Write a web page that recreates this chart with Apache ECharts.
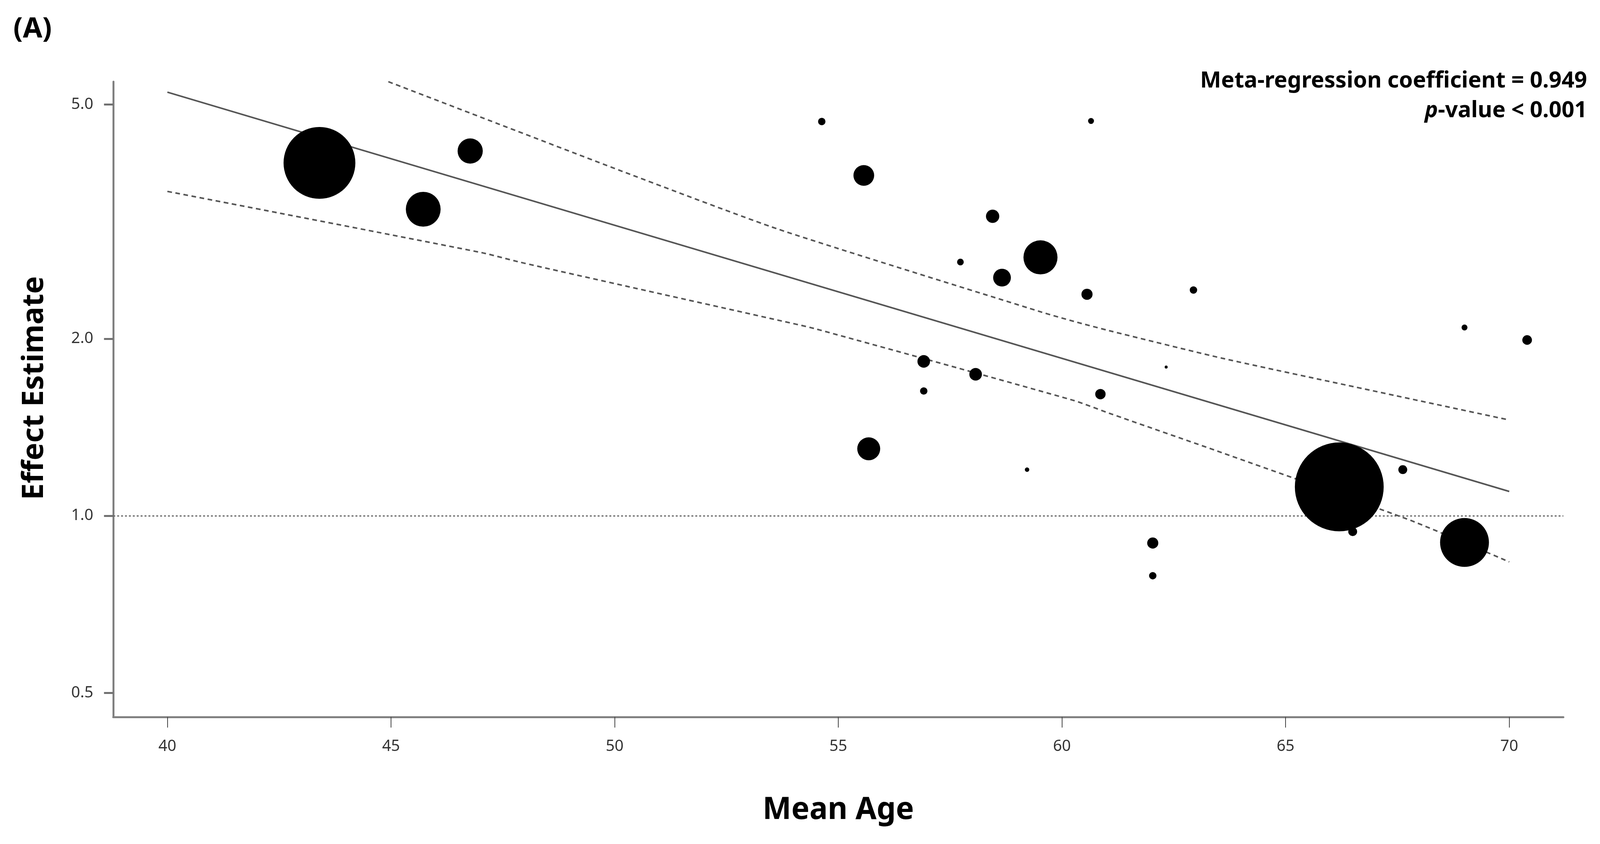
<!DOCTYPE html>
<html>
<head>
<meta charset="utf-8">
<title>Meta-regression: Mean Age</title>
<script src="https://cdn.jsdelivr.net/npm/echarts@6/dist/echarts.min.js"></script>
<style>
html,body{margin:0;padding:0;background:#fff;overflow:hidden;}
#chart{width:100vw;height:100vh;}
</style>
</head>
<body>
<div id="chart"></div>
<script>
// studies: mean age, effect estimate, relative weight (bubble size)
var ages    = [43.40, 46.77, 45.72, 54.63, 55.57, 58.45, 59.52, 57.73, 58.66, 56.91, 58.07, 56.91, 60.86, 55.68, 59.22, 60.65, 60.56, 62.94, 62.33, 69.00, 70.40, 66.20, 66.50, 67.62, 69.00, 62.03, 62.03];
var effects = [3.98, 4.17, 3.32, 4.68, 3.79, 3.23, 2.75, 2.70, 2.54, 1.83, 1.74, 1.63, 1.61, 1.30, 1.198, 4.69, 2.38, 2.42, 1.79, 2.09, 1.99, 1.12, 0.94, 1.198, 0.901, 0.899, 0.791];
var weights = [19.4, 6.8, 9.4, 2.0, 5.6, 3.6, 9.2, 1.8, 4.8, 3.4, 3.4, 2.0, 2.8, 6.2, 1.2, 1.6, 3.0, 2.0, 0.8, 1.6, 2.6, 24.0, 2.4, 2.4, 13.2, 3.0, 2.0];

// regression line and 95% CI bounds
var fitAge  = [40, 70];
var fitEst  = [5.25, 1.10];
var ciUpAge = [44.94, 47.04, 50.33, 53.66, 59.54, 60.27, 61.10, 63.58, 66.89, 70];
var ciUpEst = [5.47, 4.75, 3.81, 3.07, 2.22, 2.14, 2.06, 1.853, 1.635, 1.455];
var ciLoAge = [40, 47.04, 47.87, 50.33, 53.66, 54.48, 60.27, 61.10, 63.58, 67.80, 70];
var ciLoEst = [3.56, 2.80, 2.70, 2.45, 2.15, 2.08, 1.57, 1.49, 1.28, 0.982, 0.835];

var xTicks = [40, 45, 50, 55, 60, 65, 70];
var yTicks = [0.5, 1.0, 2.0, 5.0];
var refValue = 1.0;

function lg(v){ return Math.log10(v); }
function pairs(xs, ys){
	var out = [];
	for (var i = 0; i < xs.length; i++) out.push([xs[i], lg(ys[i])]);
	return out;
}

var dom = document.getElementById('chart');
var chart = echarts.init(dom);
var W = dom.clientWidth, H = dom.clientHeight;
// layout was measured on a 4323 x 2160 canvas
function px(v){ return v * W / 4323; }
function py(v){ return v * H / 2160; }
function fs(v){ return Math.round(v * Math.min(W / 4323, H / 2160)); }

var bubbles = [];
for (var i = 0; i < ages.length; i++) bubbles.push([ages[i], lg(effects[i]), weights[i]]);

var option = {
	animation: false,
	backgroundColor: '#fff',
	grid: { left: px(306), right: px(99), top: py(209), bottom: py(325), containLabel: false, outerBoundsMode: 'none' },
	xAxis: {
		type: 'value',
		min: 38.79, max: 71.21,
		name: 'Mean Age',
		nameLocation: 'middle',
		nameGap: py(200),
		nameTextStyle: { fontFamily: 'Noto Sans', fontWeight: 'bold', fontSize: fs(82), color: '#000', verticalAlign: 'top' },
		axisLine: { show: true, onZero: false, lineStyle: { color: '#808080', width: 5 } },
		axisTick: { show: true, length: py(27), customValues: xTicks, lineStyle: { color: '#444', width: 2 } },
		axisLabel: { customValues: xTicks, margin: py(56), fontFamily: 'Noto Sans', fontSize: fs(42), color: '#333' },
		splitLine: { show: false }
	},
	yAxis: {
		type: 'value',
		min: lg(0.455), max: lg(5.47),
		axisLine: { show: true, onZero: false, lineStyle: { color: '#808080', width: 5 } },
		axisTick: { show: true, length: px(25), customValues: yTicks.map(lg), lineStyle: { color: '#707070', width: 5 } },
		axisLabel: {
			customValues: yTicks.map(lg), margin: px(54),
			fontFamily: 'Noto Sans', fontSize: fs(42), color: '#333',
			formatter: function(v){ return Math.pow(10, v).toFixed(1); }
		},
		splitLine: { show: false }
	},
	graphic: [
		{ type: 'text', left: px(36), top: py(39),
		  style: { text: '(A)', font: 'bold ' + fs(76) + 'px "Noto Sans"', fill: '#000' } },
		{ type: 'text', x: px(93), y: py(993), rotation: Math.PI / 2,
		  style: { text: 'Effect Estimate', font: 'bold ' + fs(80) + 'px "Noto Sans"', fill: '#000', textAlign: 'center', verticalAlign: 'middle' } },
		{ type: 'text', right: px(35), top: py(179),
		  style: { text: 'Meta-regression coefficient = 0.949', font: 'bold ' + fs(60) + 'px "Noto Sans"', fill: '#000', textAlign: 'right' } },
		{ type: 'text', right: px(35), top: py(255),
		  style: { text: '{i|p}-value < 0.001', font: 'bold ' + fs(60) + 'px "Noto Sans"', fill: '#000', textAlign: 'right',
		           rich: { i: { fontStyle: 'italic', fontWeight: 'bold', fontSize: fs(60), fontFamily: 'Noto Sans' } } } }
	],
	series: [
		{
			name: 'fit', type: 'line', z: 2, symbol: 'none', silent: true,
			data: pairs(fitAge, fitEst),
			lineStyle: { color: '#555', width: 4 }
		},
		{
			name: 'ci upper', type: 'line', z: 2, symbol: 'none', silent: true, smooth: 0.2,
			data: pairs(ciUpAge, ciUpEst),
			lineStyle: { color: '#555', width: 4, type: [12, 9] }
		},
		{
			name: 'ci lower', type: 'line', z: 2, symbol: 'none', silent: true, smooth: 0.2,
			data: pairs(ciLoAge, ciLoEst),
			lineStyle: { color: '#555', width: 4, type: [12, 9] }
		},
		{
			name: 'studies', type: 'scatter', z: 3,
			data: bubbles,
			symbolSize: function(v){ return v[2] * 10 * Math.min(W / 4323, H / 2160); },
			itemStyle: { color: '#000', opacity: 1 },
			markLine: {
				silent: true, symbol: 'none', z: 1,
				label: { show: false },
				lineStyle: { color: '#666', width: 3, type: [5, 5] },
				data: [{ yAxis: lg(refValue) }]
			}
		}
	]
};
chart.setOption(option);
window.addEventListener('resize', function(){ chart.resize(); });
</script>
</body>
</html>
